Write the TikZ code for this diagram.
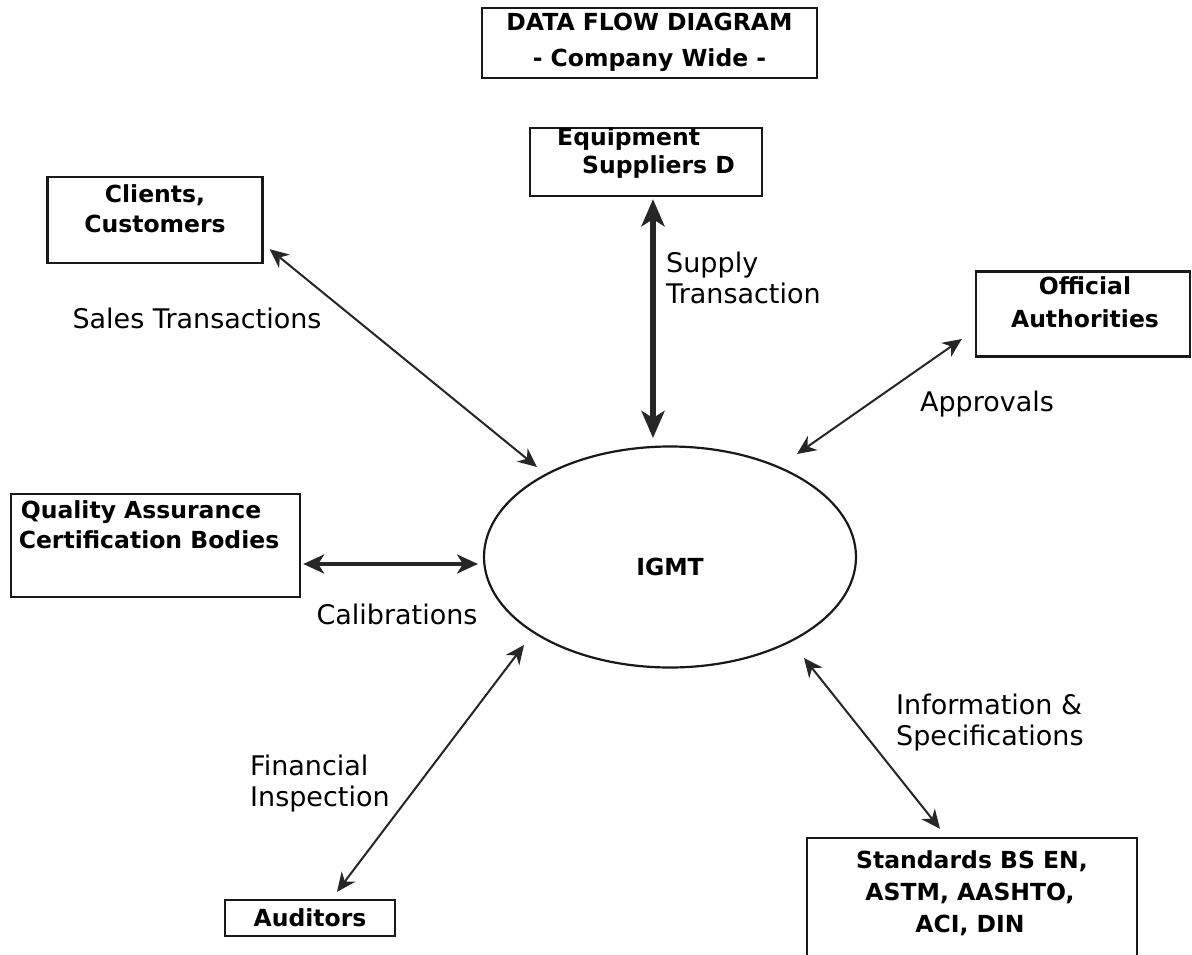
\documentclass[tikz,border=0pt]{standalone}
\usepackage{fontspec}
\setmainfont{DejaVu Sans}
\usetikzlibrary{arrows.meta,shapes.geometric}
\tikzset{
  x=1pt,y=-1pt,
  box/.style={draw=black!90,line width=2.4pt,rectangle,inner sep=0pt},
  btxt/.style={anchor=base,inner sep=0pt,font=\bfseries\fontsize{23.5}{31}\selectfont,align=center},
  lbl/.style={anchor=base west,inner sep=0pt,font=\fontsize{27}{31}\selectfont,align=left},
  flow/.style={line width=2pt,draw=black!85,{Stealth[length=19pt,width=17pt,inset=6pt]}-{Stealth[length=19pt,width=17pt,inset=6pt]}},
  midflow/.style={line width=3.2pt,draw=black!85,{Stealth[length=21pt,width=19pt,inset=6pt]}-{Stealth[length=21pt,width=19pt,inset=6pt]}},
  thickflow/.style={line width=6pt,draw=black!85,{Stealth[length=27pt,width=23pt,inset=7pt]}-{Stealth[length=27pt,width=23pt,inset=7pt]}}
}
\begin{document}
\begin{tikzpicture}
\useasboundingbox (0,0) rectangle (1192,955);
\clip (0,0) rectangle (1192,955);
\fill[white] (0,0) rectangle (1192,955);

% boxes
\node[box,minimum width=335pt,minimum height=70pt] (title) at (649.5,43) {};
\node[box,minimum width=232pt,minimum height=68pt] (equip) at (646,162) {};
\node[box,minimum width=215pt,minimum height=86pt] (clients) at (155,220) {};
\node[box,minimum width=214pt,minimum height=85pt] (official) at (1083,314) {};
\node[box,minimum width=289pt,minimum height=103pt] (qa) at (155.5,545.5) {};
\node[box,minimum width=170pt,minimum height=36pt] (auditors) at (310,918) {};
\node[box,minimum width=330pt,minimum height=130pt] (standards) at (972,903) {};
\node[draw=black!90,line width=2.2pt,ellipse,minimum width=372pt,minimum height=221pt,inner sep=0pt] (igmt) at (670,557) {};

% box texts
\node[btxt] (t1) at (649.5,31) {DATA FLOW DIAGRAM};
\node[btxt] (t2) at (649.5,67) {- Company Wide -};
\node[btxt,anchor=base west] (e1) at (557,146) {Equipment};
\node[btxt,anchor=base west] (e2) at (582,174) {Suppliers D};
\node[btxt] (c1) at (155,203) {Clients,};
\node[btxt] (c2) at (155,232) {Customers};
\node[btxt] (o1) at (1085,294) {Official};
\node[btxt] (o2) at (1085,327) {Authorities};
\node[btxt] (q1) at (141,518) {Quality Assurance};
\node[btxt] (q2) at (149,548) {Certification Bodies};
\node[btxt] (a1) at (310,926) {Auditors};
\node[btxt] (s1) at (972,868) {Standards BS EN,};
\node[btxt] (s2) at (970,900) {ASTM, AASHTO,};
\node[btxt] (s3) at (970,932) {ACI, DIN};
\node[btxt] (ig) at (670,575) {IGMT};

% flow labels (base anchor = baseline of last line)
\node[lbl,anchor=base] (lsales) at (197,328) {Sales Transactions};
\node[lbl] (lsupply) at (666,303) {Supply\\Transaction};
\node[lbl,anchor=base] (lappr) at (987,411) {Approvals};
\node[lbl,anchor=base] (lcal) at (397,624) {Calibrations};
\node[lbl] (lfin) at (250,806) {Financial\\Inspection};
\node[lbl] (linfo) at (896,745) {Information \&\\Specifications};

% connectors
\draw[flow] ([shift={(6,-15)}]clients.south east) -- ([shift={(-133,-90)}]igmt.center);
\draw[thickflow] ([shift={(7,2)}]equip.south) -- ([shift={(-17,-119)}]igmt.center);
\draw[flow] ([shift={(-13,25)}]official.west) -- ([shift={(127,-103)}]igmt.center);
\draw[midflow] ([shift={(2,18.5)}]qa.east) -- ([shift={(-192,7)}]igmt.center);
\draw[flow] ([shift={(27,-7)}]auditors.north) -- ([shift={(-146,88)}]igmt.center);
\draw[flow] ([shift={(-32,-8)}]standards.north) -- ([shift={(134,101)}]igmt.center);
\end{tikzpicture}
\end{document}
